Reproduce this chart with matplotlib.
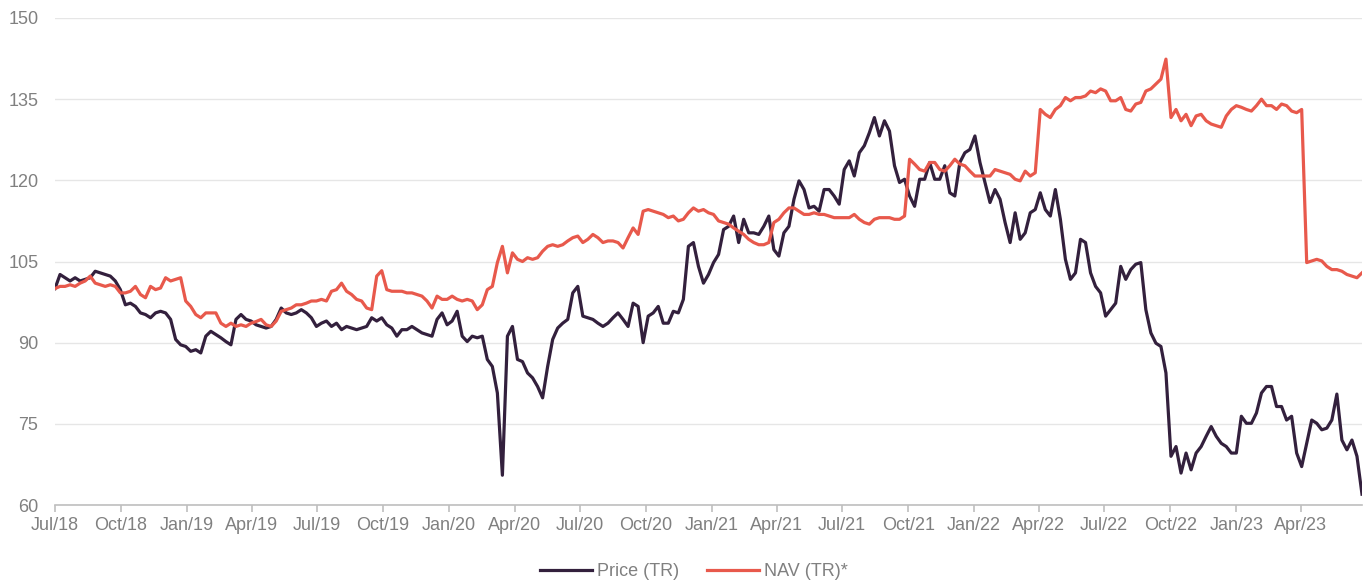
import pandas as pd
import matplotlib.pyplot as plt
import matplotlib.dates as mdates

plt.rcParams['font.family'] = ['Liberation Sans', 'DejaVu Sans']

dates = pd.date_range('2018-07-01', periods=261, freq='7D')

price = [
    100.0, 102.6, 102.0, 101.4, 102.0, 101.4, 101.7, 102.0, 103.2, 102.9,
    102.6, 102.3, 101.4, 99.8, 97.0, 97.3, 96.7, 95.5, 95.2, 94.6,
    95.5, 95.8, 95.5, 94.3, 90.6, 89.6, 89.3, 88.4, 88.7, 88.1,
    91.2, 92.1, 91.5, 90.9, 90.2, 89.6, 94.3, 95.2, 94.3, 94.0,
    93.3, 93.0, 92.7, 93.0, 94.3, 96.4, 95.5, 95.2, 95.5, 96.1,
    95.5, 94.6, 93.0, 93.6, 94.0, 93.0, 93.6, 92.4, 93.0, 92.7,
    92.4, 92.7, 93.0, 94.6, 94.0, 94.6, 93.3, 92.7, 91.2, 92.4,
    92.4, 93.0, 92.4, 91.8, 91.5, 91.2, 94.3, 95.5, 93.3, 94.0,
    95.8, 91.2, 90.2, 91.2, 90.9, 91.2, 86.9, 85.6, 80.7, 65.5,
    91.2, 93.0, 86.9, 86.5, 84.4, 83.5, 81.9, 79.8, 85.6, 90.6,
    92.7, 93.6, 94.3, 99.2, 100.4, 94.9, 94.6, 94.3, 93.6, 93.0,
    93.6, 94.6, 95.5, 94.3, 93.0, 97.3, 96.7, 90.0, 94.9, 95.5,
    96.7, 93.6, 93.6, 95.8, 95.5, 98.0, 107.8, 108.5, 104.1, 101.0,
    102.6, 104.8, 106.3, 110.9, 111.5, 113.4, 108.5, 112.8, 110.3, 110.3,
    110.0, 111.5, 113.4, 107.2, 106.0, 110.3, 111.5, 116.5, 119.9, 118.3,
    114.9, 115.2, 114.3, 118.3, 118.3, 117.1, 115.6, 122.0, 123.6, 120.8,
    125.1, 126.4, 128.8, 131.6, 128.2, 131.0, 129.1, 122.7, 119.6, 120.2,
    117.1, 115.2, 120.2, 120.2, 123.3, 120.2, 120.2, 122.7, 117.7, 117.1,
    123.3, 125.1, 125.7, 128.2, 123.3, 119.6, 115.9, 118.3, 116.5, 112.2,
    108.5, 114.0, 109.1, 110.3, 114.0, 114.6, 117.7, 114.6, 113.4, 118.3,
    112.8, 105.4, 101.7, 102.9, 109.1, 108.5, 102.9, 100.4, 99.2, 94.9,
    96.1, 97.3, 104.1, 101.7, 103.5, 104.5, 104.8, 96.1, 91.8, 89.9,
    89.3, 84.4, 69.0, 70.8, 65.9, 69.6, 66.5, 69.6, 70.8, 72.7,
    74.5, 72.7, 71.4, 70.8, 69.6, 69.6, 76.4, 75.1, 75.1, 77.0,
    80.7, 81.9, 81.9, 78.2, 78.2, 75.7, 76.4, 69.6, 67.1, 71.4,
    75.7, 75.1, 73.9, 74.2, 75.7, 80.5, 72.0, 70.2, 72.0, 69.0,
    62.0,
]

nav = [
    100.0, 100.4, 100.4, 100.7, 100.4, 101.0, 101.4, 102.3, 101.0, 100.7,
    100.4, 100.7, 100.4, 99.2, 99.2, 99.5, 100.4, 98.9, 98.3, 100.4,
    99.8, 100.1, 102.0, 101.4, 101.7, 102.0, 97.7, 96.7, 95.2, 94.6,
    95.5, 95.5, 95.5, 93.6, 93.0, 93.6, 93.0, 93.3, 93.0, 93.6,
    93.9, 94.3, 93.3, 93.0, 94.0, 95.8, 96.1, 96.4, 97.0, 97.0,
    97.3, 97.7, 97.7, 98.0, 97.7, 99.5, 99.8, 101.0, 99.5, 98.9,
    98.0, 97.7, 96.4, 96.1, 102.3, 103.3, 99.8, 99.5, 99.5, 99.5,
    99.2, 99.2, 98.9, 98.6, 97.7, 96.4, 98.6, 98.0, 98.0, 98.6,
    98.0, 97.7, 98.0, 97.7, 96.1, 97.0, 99.8, 100.4, 104.8, 107.8,
    102.9, 106.6, 105.4, 105.0, 105.7, 105.4, 105.7, 106.9, 107.8, 108.1,
    107.8, 108.1, 108.8, 109.4, 109.7, 108.5, 109.1, 110.0, 109.4, 108.5,
    108.8, 108.8, 108.5, 107.5, 109.4, 111.2, 110.0, 114.3, 114.6, 114.3,
    114.0, 113.7, 113.1, 113.4, 112.5, 112.8, 114.0, 114.9, 114.3, 114.6,
    114.0, 113.7, 112.5, 112.2, 111.9, 111.2, 110.6, 110.0, 109.1, 108.5,
    108.1, 108.1, 108.5, 112.2, 112.8, 114.0, 114.9, 114.9, 114.3, 113.7,
    113.7, 114.0, 113.7, 113.7, 113.4, 113.1, 113.1, 113.1, 113.1, 113.7,
    112.8, 112.2, 111.9, 112.8, 113.1, 113.1, 113.1, 112.8, 112.8, 113.4,
    123.9, 123.0, 122.0, 121.7, 123.3, 123.3, 122.0, 121.7, 122.7, 123.9,
    123.0, 122.7, 121.7, 120.8, 120.8, 120.8, 120.8, 122.0, 121.7, 121.4,
    121.1, 120.2, 119.9, 121.7, 120.8, 121.4, 133.1, 132.2, 131.6, 133.1,
    133.8, 135.3, 134.7, 135.3, 135.3, 135.6, 136.5, 136.2, 136.9, 136.5,
    134.7, 134.7, 135.3, 133.1, 132.8, 134.1, 134.4, 136.5, 136.9, 137.8,
    138.7, 142.4, 131.6, 133.1, 131.0, 132.2, 130.1, 131.9, 132.2, 131.0,
    130.4, 130.1, 129.8, 131.9, 133.1, 133.8, 133.5, 133.1, 132.8, 133.8,
    135.0, 133.8, 133.8, 133.1, 134.1, 133.8, 132.8, 132.5, 133.1, 104.8,
    105.1, 105.4, 105.1, 104.1, 103.5, 103.5, 103.2, 102.6, 102.3, 102.0,
    102.9,
]

series_labels = ['Price (TR)', 'NAV (TR)*']
y_ticks = [60, 75, 90, 105, 120, 135, 150]

fig = plt.figure(figsize=(13.63, 5.84), dpi=100)
ax = fig.add_axes([55 / 1363, 79 / 584, 1307 / 1363, 487 / 584])

ax.plot(dates, price, color='#33203d', lw=2.3, label=series_labels[0])
ax.plot(dates, nav, color='#e8594c', lw=2.3, label=series_labels[1])

ax.set_ylim(60, 150)
ax.set_yticks(y_ticks)
ax.set_xlim(pd.Timestamp('2018-07-01'), dates[-1])

# quarterly ticks, Jul/18 style
ax.xaxis.set_major_locator(mdates.MonthLocator(bymonth=[1, 4, 7, 10]))
ax.xaxis.set_major_formatter(mdates.DateFormatter('%b/%y'))

ax.grid(axis='y', color='#e6e6e6', lw=1)
ax.set_axisbelow(True)
for s in ['top', 'right', 'left']:
    ax.spines[s].set_visible(False)
ax.spines['bottom'].set_color('#bfbfbf')
ax.spines['bottom'].set_linewidth(1.2)

ax.tick_params(axis='y', length=0, pad=12, labelsize=13, labelcolor='#808080')
ax.tick_params(axis='x', length=5, color='#bfbfbf', width=1.2, pad=4,
               labelsize=13, labelcolor='#808080')

fig.legend(loc='center', bbox_to_anchor=(694 / 1363, 12 / 584), ncol=2,
           frameon=False, fontsize=13, labelcolor='#808080',
           handlelength=2.9, handletextpad=0.3, columnspacing=1.5)

fig.savefig('out.png', dpi=100)
